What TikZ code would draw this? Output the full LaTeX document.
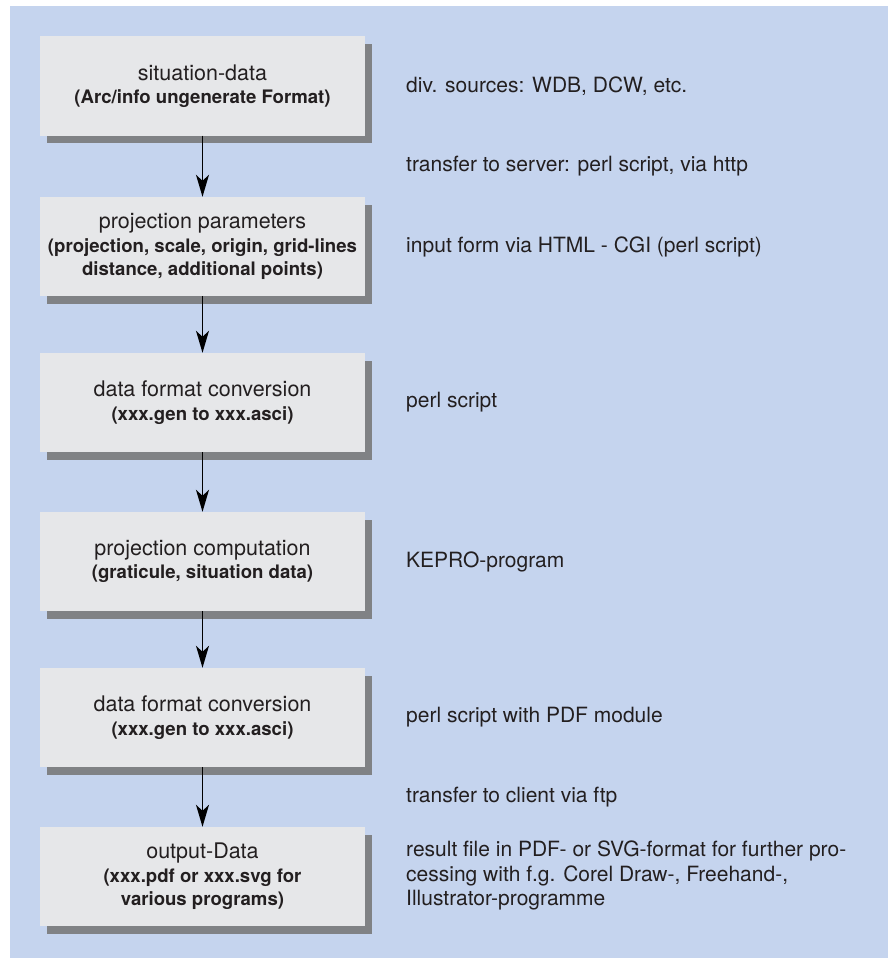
\documentclass[tikz,border=0pt]{standalone}
\usepackage{fontspec}
\setmainfont{TeX Gyre Heros}
\usetikzlibrary{arrows.meta,shadows}
\definecolor{bgblue}{RGB}{197,212,238}
\definecolor{boxgray}{RGB}{230,231,233}
\definecolor{shadowgray}{RGB}{128,130,133}
\definecolor{txt}{RGB}{35,31,32}
\tikzset{
  stepbox/.style={fill=boxgray, minimum width=325pt, minimum height=99pt, inner sep=0pt,
    align=center, text=txt, font=\fontsize{18.6}{23.5}\selectfont\bfseries,
    drop shadow={shadow xshift=7pt, shadow yshift=-7.5pt, fill=shadowgray, opacity=1}},
  note/.style={anchor=west, align=left, inner sep=0pt, text=txt, font=\fontsize{21}{24.5}\selectfont},
  flow/.style={-{Stealth[length=22pt,width=13pt,inset=6pt]}, line width=1.3pt, black}
}
\newcommand{\ttl}[1]{{\fontsize{21.5}{23.5}\selectfont\mdseries #1}}
\begin{document}
\begin{tikzpicture}[x=1pt,y=-1pt]
\useasboundingbox (0,0) rectangle (888,958);
\fill[white] (0,0) rectangle (888,958);
\fill[bgblue] (10,6) rectangle (888,958);

\node[stepbox] (b1) at (202.5,86) {\ttl{situation-data}\\(Arc/info ungenerate Format)};
\node[stepbox] (b2) at (202.5,246.5) {\ttl{projection parameters}\\(projection, scale, origin, grid-lines\\distance, additional points)};
\node[stepbox] (b3) at (202.5,402.5) {\ttl{data format conversion}\\(xxx.gen to xxx.asci)};
\node[stepbox] (b4) at (202.5,561.5) {\ttl{projection computation}\\(graticule, situation data)};
\node[stepbox] (b5) at (202.5,717.5) {\ttl{data format conversion}\\(xxx.gen to xxx.asci)};
\node[stepbox] (b6) at (202.5,876.5) {\ttl{output-Data}\\(xxx.pdf or xxx.svg for\\various programs)};

\draw[flow] (b1.south) -- (b2.north);
\draw[flow] (b2.south) -- (b3.north);
\draw[flow] (b3.south) -- (b4.north);
\draw[flow] (b4.south) -- (b5.north);
\draw[flow] (b5.south) -- (b6.north);

\node[note] (n1) at (406,86) {div. sources: WDB, DCW, etc.};
\node[note] (n2) at (406,166) {transfer to server: perl script, via http};
\node[note] (n3) at (406,246.5) {input form via HTML - CGI (perl script)};
\node[note] (n4) at (406,402.5) {perl script};
\node[note] (n5) at (406,561.5) {KEPRO-program};
\node[note] (n6) at (406,717.5) {perl script with PDF module};
\node[note] (n7) at (406,797) {transfer to client via ftp};
\node[note] (n8) at (406,875.5) {result file in PDF- or SVG-format for further pro-\\cessing with f.g. Corel Draw-, Freehand-,\\Illustrator-programme};
\end{tikzpicture}
\end{document}
